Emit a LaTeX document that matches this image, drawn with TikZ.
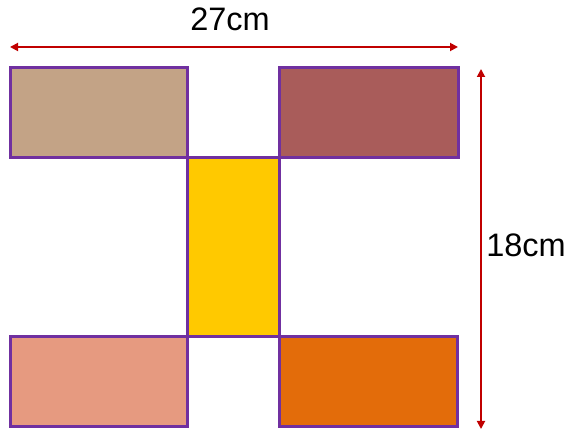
\documentclass[tikz,border=0pt]{standalone}
\usepackage{fontspec}
\setmainfont{Liberation Sans}
\usetikzlibrary{arrows.meta}

\definecolor{edgepurple}{HTML}{7030A0}
\definecolor{dimred}{HTML}{C00000}
\definecolor{tanfill}{HTML}{C3A386}
\definecolor{rustfill}{HTML}{A95C5A}
\definecolor{goldfill}{HTML}{FFC900}
\definecolor{salmonfill}{HTML}{E69A80}
\definecolor{orangefill}{HTML}{E36C0A}

\begin{document}
\begin{tikzpicture}[x=1pt,y=-1pt]
            \tikzstyle{face}=[draw=edgepurple, line width=3pt, inner sep=0pt, outer sep=0pt, anchor=north west]
            \tikzstyle{dim}=[draw=dimred, line width=1.8pt, {Triangle[length=8pt,width=8pt]}-{Triangle[length=8pt,width=8pt]}]
            \tikzstyle{dimlabel}=[inner sep=0pt, font=\fontsize{32.5}{39}\selectfont]
            \useasboundingbox (0,0) rectangle (573,435);
            \node [face, fill=tanfill, minimum width=177pt, minimum height=90pt] (topleft) at (10,68) {};
            \node [face, fill=rustfill, minimum width=179pt, minimum height=90pt] (topright) at (279,68) {};
            \node [face, fill=goldfill, minimum width=92pt, minimum height=179pt] (middle) at (187,158) {};
            \node [face, fill=salmonfill, minimum width=177pt, minimum height=90pt] (bottomleft) at (10,337) {};
            \node [face, fill=orangefill, minimum width=178pt, minimum height=90pt] (bottomright) at (279,337) {};
            \coordinate (widthL) at (10,47);
            \coordinate (widthR) at (458,47);
            \coordinate (heightT) at (481,69);
            \coordinate (heightB) at (481,429);
            \draw [dim] (widthL) -- (widthR);
            \draw [dim] (heightT) -- (heightB);
            \node [dimlabel] (widthtext) at (230,19) {27cm};
            \node [dimlabel] (heighttext) at (526,245) {18cm};
\end{tikzpicture}
\end{document}
